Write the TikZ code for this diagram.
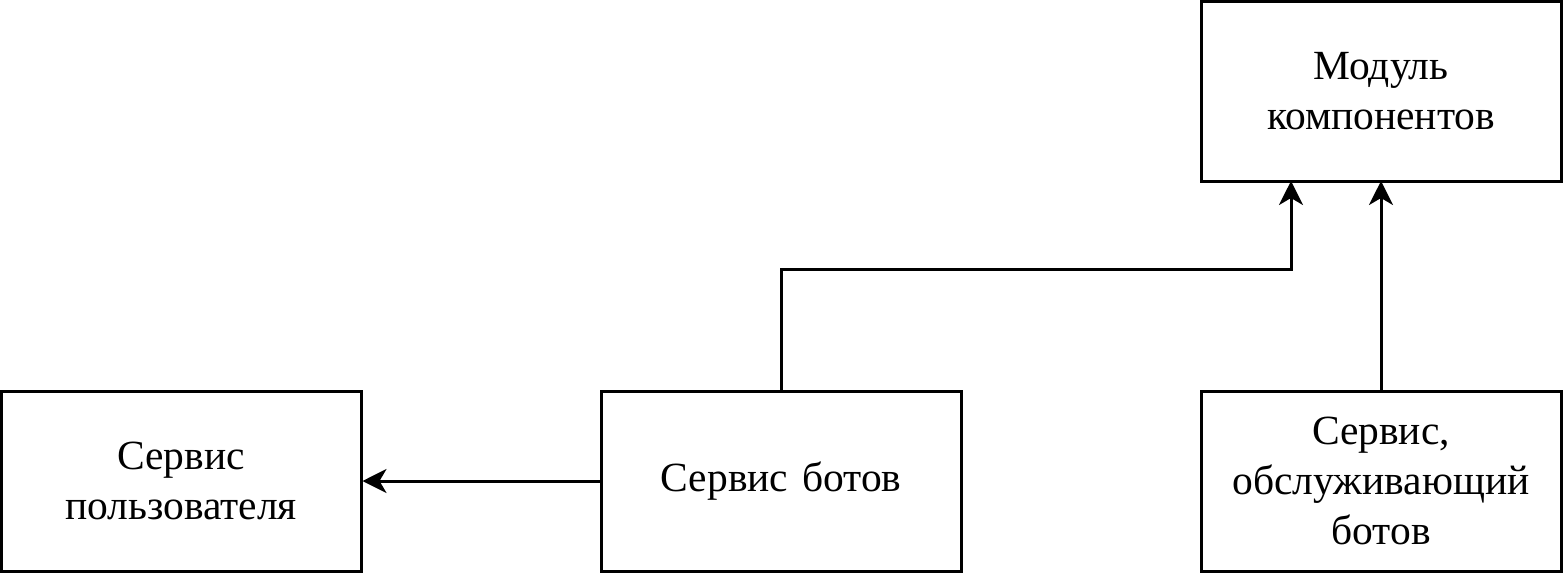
\documentclass[tikz,border=0pt]{standalone}
\usepackage{fontspec}
\setmainfont{Liberation Serif}
\usetikzlibrary{arrows.meta}
\tikzset{
  box/.style={draw=black, line width=3pt, minimum width=360pt, minimum height=180pt, inner sep=0pt, align=center, font=\fontsize{41.5}{50}\selectfont, text width=340pt},
  conn/.style={draw=black, line width=3pt, -{Stealth[length=24pt, width=24pt, inset=7pt]}}
}
\begin{document}
\begin{tikzpicture}[x=1pt, y=-1pt]
\useasboundingbox (0,0) rectangle (1563,573);
\node[box] (mod) at (1381,91) {Модуль\\компонентов};
\node[box] (user) at (181,481) {Сервис\\пользователя};
\node[box] (bots) at (781,481) {Сервис ботов};
\node[box] (serv) at (1381,481) {Сервис,\\обслуживающий\\ботов};
\coordinate (m1) at (1291,181);
\coordinate (m2) at (1381,181);
\draw[conn] (bots.west) -- (user.east);
\draw[conn] (bots.north) -- ++(0,-120) -| (m1);
\draw[conn] (serv.north) -- (m2);
\end{tikzpicture}
\end{document}
